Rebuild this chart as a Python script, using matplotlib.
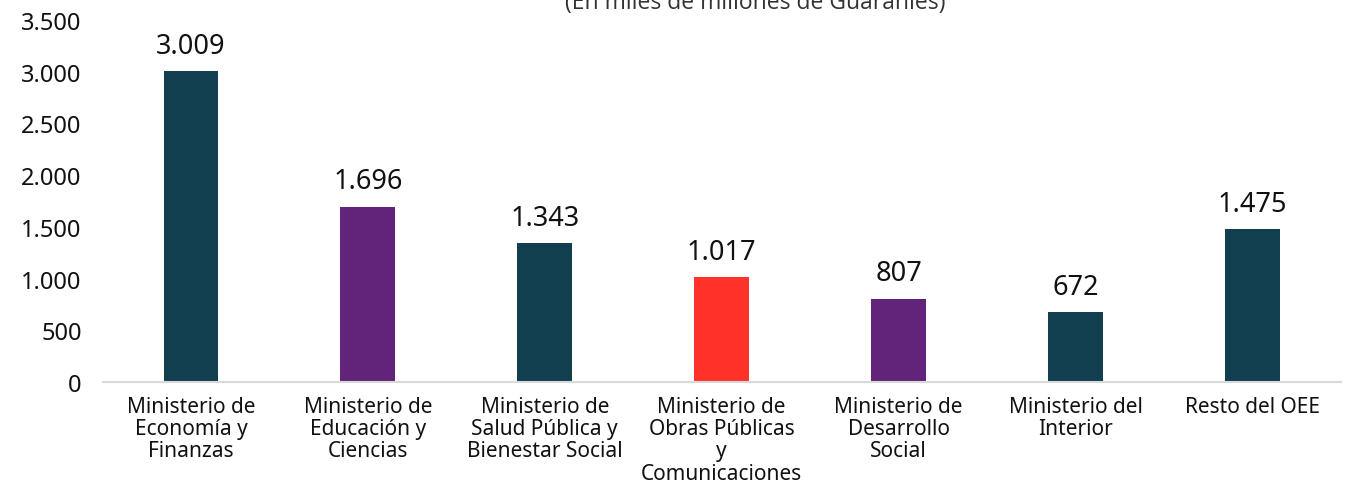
import matplotlib
matplotlib.use("Agg")
from matplotlib import pyplot as plt

categories = [
    "Ministerio de\nEconomía y\nFinanzas",
    "Ministerio de\nEducación y\nCiencias",
    "Ministerio de\nSalud Pública y\nBienestar Social",
    "Ministerio de\nObras Públicas\ny\nComunicaciones",
    "Ministerio de\nDesarrollo\nSocial",
    "Ministerio del\nInterior",
    "Resto del OEE",
]
values = [3009, 1696, 1343, 1017, 807, 672, 1475]
value_labels = ["3.009", "1.696", "1.343", "1.017", "807", "672", "1.475"]
yticks = [0, 500, 1000, 1500, 2000, 2500, 3000, 3500]
ytick_labels = ["0", "500", "1.000", "1.500", "2.000", "2.500", "3.000", "3.500"]

teal = "#123F50"
purple = "#62247A"
red = "#FF3329"
colors = [teal, purple, teal, red, purple, teal, teal]

plt.rcParams["font.family"] = ["Noto Sans", "DejaVu Sans"]

fig = plt.figure(figsize=(13.47, 4.85), dpi=100)
ax = fig.add_axes([0.0761, 0.2103, 0.9194, 0.7464])

x = list(range(len(values)))
bars = ax.bar(x, values, width=0.31, color=colors)

for xi, v, lab in zip(x, values, value_labels):
    ax.annotate(lab, (xi, v), xytext=(0, 8), textcoords="offset points",
                ha="center", va="bottom", fontsize=19.5, color="#111111")

ax.set_xlim(-0.5, len(values) - 0.5)
ax.set_ylim(0, 3500)
ax.set_yticks(yticks)
ax.set_yticklabels(ytick_labels, fontsize=17, color="#111111")
ax.set_xticks(x)
ax.set_xticklabels(categories, fontsize=15, color="#111111", linespacing=1.08)
ax.tick_params(axis="x", length=0, pad=10)
ax.tick_params(axis="y", length=0, pad=15)

for s in ["top", "right", "left"]:
    ax.spines[s].set_visible(False)
ax.spines["bottom"].set_color("#D9D9D9")
ax.spines["bottom"].set_linewidth(1.5)

fig.text(0.5605, 0.982, "(En miles de millones de Guaraníes)", ha="center",
         va="baseline", fontsize=16.5, color="#333333", family=["Open Sans", "DejaVu Sans"])

fig.savefig("out.png", dpi=100)
